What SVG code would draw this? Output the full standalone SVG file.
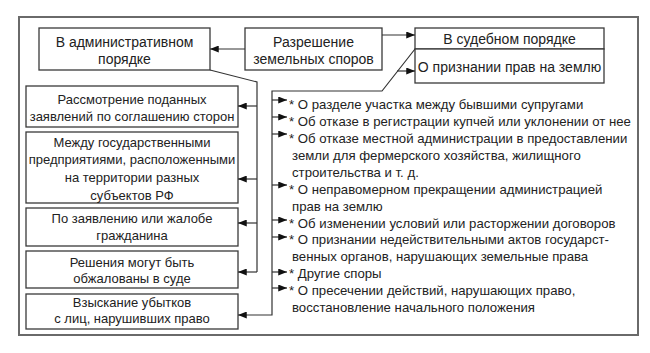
<svg xmlns="http://www.w3.org/2000/svg" width="650" height="353" viewBox="0 0 650 353">
<defs>
<style>
.frame{fill:none;stroke:#6a6a6a;stroke-width:2}
.box{fill:#fff;stroke:#3a3a3a;stroke-width:1.3}
.t{font-family:"Liberation Sans",Arial,sans-serif;font-size:13px;fill:#222}
.l{font-size:13.2px}
.h{font-family:"Liberation Sans",Arial,sans-serif;font-size:14px;fill:#222}
.c{text-anchor:middle}
.ln{fill:none;stroke:#333;stroke-width:1.2}
</style>
<marker id="ah" viewBox="0 0 10 8" refX="10" refY="4" markerWidth="10" markerHeight="7" markerUnits="userSpaceOnUse" orient="auto">
<path d="M0,0 L10,4 L0,8 z" fill="#111"/>
</marker>
</defs>
<rect width="650" height="353" fill="#fff"/>
<rect class="frame" x="19" y="17" width="619" height="318"/>

<g id="admin">
<rect class="box" x="39" y="28" width="171" height="42"/>
<text class="h c" x="124.5" y="47">В административном</text>
<text class="h c" x="124.5" y="64">порядке</text>
</g>
<g id="root">
<rect class="box" x="245" y="28" width="137" height="42"/>
<text class="h c" x="313.5" y="47">Разрешение</text>
<text class="h c" x="313.5" y="64">земельных споров</text>
</g>
<g id="court">
<rect class="box" x="415" y="28" width="189" height="21"/>
<text class="h c" x="509.5" y="44">В судебном порядке</text>
</g>
<g id="rights">
<rect class="box" x="415" y="49" width="189" height="34"/>
<text class="h c" x="509.5" y="71.5">О признании прав на землю</text>
</g>

<g id="a1">
<rect class="box" x="26" y="86" width="212" height="41"/>
<text class="t c" x="132" y="103.5">Рассмотрение поданных</text>
<text class="t c" x="132" y="120.5">заявлений по соглашению сторон</text>
</g>
<g id="a2">
<rect class="box" x="26" y="132" width="212" height="71"/>
<text class="t c" x="132" y="146.5">Между государственными</text>
<text class="t c" x="132" y="164.3">предприятиями, расположенными</text>
<text class="t c" x="132" y="182">на территории разных</text>
<text class="t c" x="132" y="199.5">субъектов РФ</text>
</g>
<g id="a3">
<rect class="box" x="26" y="208" width="212" height="38"/>
<text class="t c" x="132" y="222.5">По заявлению или жалобе</text>
<text class="t c" x="132" y="240">гражданина</text>
</g>
<g id="a4">
<rect class="box" x="26" y="251" width="212" height="37"/>
<text class="t c" x="132" y="266.5">Решения могут быть</text>
<text class="t c" x="132" y="282.5">обжалованы в суде</text>
</g>
<g id="a5">
<rect class="box" x="26" y="294" width="212" height="35"/>
<text class="t c" x="132" y="306.5">Взыскание убытков</text>
<text class="t c" x="132" y="322.5">с лиц, нарушивших право</text>
</g>

<g id="list">
<text class="t l" x="289" y="109">* О разделе участка между бывшими супругами</text>
<text class="t l" x="289" y="126">* Об отказе в регистрации купчей или уклонении от нее</text>
<text class="t l" x="289" y="143">* Об отказе местной администрации в предоставлении</text>
<text class="t l" x="292" y="160">земли для фермерского хозяйства, жилищного</text>
<text class="t l" x="292" y="177">строительства и т. д.</text>
<text class="t l" x="289" y="193.5">* О неправомерном прекращении администрацией</text>
<text class="t l" x="292" y="210.5">прав на землю</text>
<text class="t l" x="289" y="227.5">* Об изменении условий или расторжении договоров</text>
<text class="t l" x="289" y="244">* О признании недействительными актов государст-</text>
<text class="t l" x="292" y="261">венных органов, нарушающих земельные права</text>
<text class="t l" x="289" y="278">* Другие споры</text>
<text class="t l" x="289" y="295">* О пресечении действий, нарушающих право,</text>
<text class="t l" x="292" y="312">восстановление начального положения</text>
</g>

<g id="connectors">
<path class="ln" d="M245,49 H210" marker-end="url(#ah)"/>
<path class="ln" d="M382,35 H415" marker-end="url(#ah)"/>
<path class="ln" d="M210,70 L257,82 V272"/>
<path class="ln" d="M257,106 H238" marker-end="url(#ah)"/>
<path class="ln" d="M257,179 H238" marker-end="url(#ah)"/>
<path class="ln" d="M257,223 H238" marker-end="url(#ah)"/>
<path class="ln" d="M257,272 H238" marker-end="url(#ah)"/>
<path class="ln" d="M415,49 L382,91 H272 V315 H238" marker-end="url(#ah)"/>
<path class="ln" d="M397,71 H415" marker-end="url(#ah)"/>
<path class="ln" d="M272,100 H287" marker-end="url(#ah)"/>
<path class="ln" d="M272,117 H287" marker-end="url(#ah)"/>
<path class="ln" d="M272,134 H287" marker-end="url(#ah)"/>
<path class="ln" d="M272,185 H287" marker-end="url(#ah)"/>
<path class="ln" d="M272,220 H287" marker-end="url(#ah)"/>
<path class="ln" d="M272,237 H287" marker-end="url(#ah)"/>
<path class="ln" d="M272,272 H287" marker-end="url(#ah)"/>
<path class="ln" d="M272,288 H287" marker-end="url(#ah)"/>
</g>
</svg>
